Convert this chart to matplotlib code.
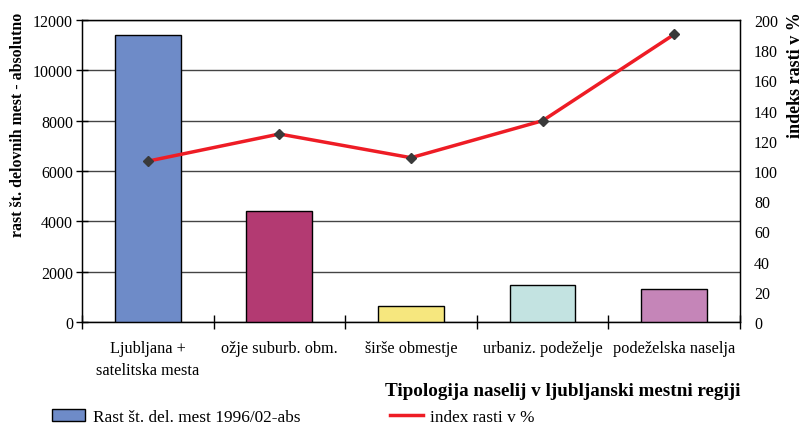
import matplotlib as mpl
mpl.use('Agg')
import matplotlib.pyplot as plt
from matplotlib.patches import Patch
from matplotlib.lines import Line2D
import numpy as np

plt.rcParams['font.family'] = 'Liberation Serif'

kategorije = ['Ljubljana +\nsatelitska mesta', 'ožje suburb. obm.', 'širše obmestje',
              'urbaniz. podeželje', 'podeželska naselja']
rast_abs = [11400, 4420, 650, 1480, 1310]
indeks = [106.5, 124.5, 108.8, 133.3, 190.5]
barve = ['#6E8BC8', '#B33A72', '#F6E77E', '#C3E3E1', '#C585B8']

fig = plt.figure(figsize=(8.02, 4.27), dpi=100)
ax = fig.add_axes([0.1022, 0.2436, 0.8205, 0.7072])
x = np.arange(len(kategorije))

ax.bar(x, rast_abs, width=0.5, color=barve, edgecolor='black', linewidth=1, zorder=3)
ax.set_xlim(-0.5, len(kategorije) - 0.5)
ax.set_ylim(0, 12000)
ax.set_yticks(np.arange(0, 12001, 2000))
ax.yaxis.grid(True, color='#444444', linewidth=1, zorder=0)
ax.tick_params(axis='y', direction='inout', length=9, width=1, labelsize=11.5, pad=2)
ax.set_xticks(x)
ax.set_xticklabels(kategorije, fontsize=11.7, linespacing=1.5)
ax.set_xticks(np.arange(-0.5, len(kategorije)), minor=True)
ax.tick_params(axis='x', which='major', length=0, pad=13)
ax.tick_params(axis='x', which='minor', direction='inout', length=10, width=1)
for s in ax.spines.values():
    s.set_linewidth(1)
fig.text(18 / 802, 1 - 13 / 427, 'rast št. delovnih mest - absolutno', rotation=90,
         ha='center', va='top', fontsize=11.4, fontweight='bold')
ax.set_xlabel('Tipologija naselij v ljubljanski mestni regiji', fontsize=13.8,
              fontweight='bold', loc='right', labelpad=3)

ax2 = ax.twinx()
ax2.plot(x, indeks, color='#EE1C25', linewidth=2.5, marker='D', markersize=5,
         markerfacecolor='#3A3A3A', markeredgecolor='#3A3A3A', zorder=4)
ax2.set_ylim(0, 200)
ax2.set_yticks(np.arange(0, 201, 20))
ax2.tick_params(axis='y', length=0, labelsize=11.5, pad=10)
fig.text(795 / 802, 1 - 12 / 427, 'indeks rasti v %', rotation=90,
         ha='center', va='top', fontsize=13, fontweight='bold')

handles = [Patch(facecolor='#6E8BC8', edgecolor='black', linewidth=1),
           Line2D([], [], color='#EE1C25', linewidth=2.5)]
fig.legend(handles, ['Rast št. del. mest 1996/02-abs', 'index rasti v %'],
           loc='lower left', bbox_to_anchor=(0.046, -0.035), ncol=2, frameon=False,
           fontsize=12.4, handlelength=1.9, columnspacing=5.2, handletextpad=0.45)

plt.savefig('out.png', dpi=100)
